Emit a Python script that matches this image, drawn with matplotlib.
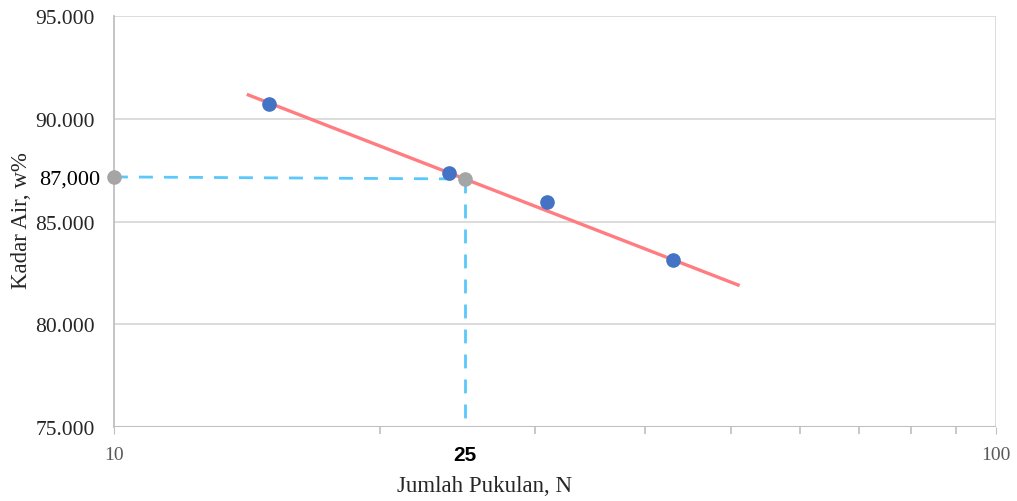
import numpy as np
import matplotlib.pyplot as plt
import matplotlib.ticker as mticker
import matplotlib.transforms as mtrans

# data
blowsN = [15, 24, 31, 43]
waterW = [90.72, 87.36, 85.95, 83.13]

trendN = [14.2, 51.0]
trendW = [91.16, 81.91]

helperN = [10, 25]
helperW = [87.17, 87.07]

yTicks = [75, 80, 85, 90, 95]
yTickLabels = ["75.000", "80.000", "85.000", "90.000", "95.000"]
xTicks = [10, 100]
xTickLabels = ["10", "100"]

serif = "Liberation Serif"

fig = plt.figure(figsize=(10.17, 5.02), dpi=100)
ax = fig.add_axes([0.1121, 0.1474, 0.8673, 0.8187])

ax.set_xscale("log")
ax.set_xlim(10, 100)
ax.set_ylim(75, 95)

# grid frame
ax.set_yticks(yTicks)
ax.set_yticklabels(yTickLabels, fontfamily=serif, fontsize=15.5, color="#262626")
ax.grid(axis="y", color="#d9d9d9", linewidth=1.3)
for s in ["top", "right", "bottom"]:
    ax.spines[s].set_visible(False)
ax.spines["left"].set_color("#bfbfbf")
ax.spines["left"].set_linewidth(1.3)
ax.axvline(100, color="#d9d9d9", linewidth=1.3)
ax.axhline(75, color="#bfbfbf", linewidth=1.5)
ax.tick_params(axis="y", length=0, pad=14)

ax.xaxis.set_major_locator(mticker.FixedLocator(xTicks))
ax.xaxis.set_major_formatter(mticker.FixedFormatter(xTickLabels))
ax.xaxis.set_minor_locator(mticker.FixedLocator([20, 30, 40, 50, 60, 70, 80, 90]))
ax.xaxis.set_minor_formatter(mticker.NullFormatter())
ax.tick_params(axis="x", which="major", length=5, color="#bfbfbf", pad=9,
               labelsize=14, labelcolor="#595959")
ax.tick_params(axis="x", which="minor", length=5, color="#bfbfbf", width=1.2)
for lbl in ax.get_xticklabels():
    lbl.set_fontfamily(serif)

# dashed guide lines
ax.plot(helperN, helperW, linestyle=(0, (5, 4)), color="#5ac8fa", linewidth=2, zorder=2)
ax.plot([helperN[1], helperN[1]], [helperW[1], 75], linestyle=(0, (5, 4)),
        color="#5ac8fa", linewidth=2, zorder=2)

# trend line and points
ax.plot(trendN, trendW, color="#ff7c80", linewidth=2.4, zorder=3)
ax.plot(blowsN, waterW, "o", color="#4472c4", markersize=9.5, zorder=4)
ax.plot(helperN, helperW, "o", color="#a5a5a5", markersize=9.5, zorder=5, clip_on=False)

# extra labels
trans = mtrans.blended_transform_factory(ax.transData, ax.transAxes)
ax.text(25, -0.045, "25", transform=trans, ha="center", va="top",
        fontsize=15, fontweight="bold", color="black", fontfamily="Liberation Sans")
ytrans = mtrans.blended_transform_factory(ax.transAxes, ax.transData)
ax.text(-0.016, 87.05, "87,000", transform=ytrans, ha="right", va="center",
        fontsize=16, color="black", fontfamily=serif)

fig.text(0.476, 0.03, "Jumlah Pukulan, N", ha="center", va="center",
         fontsize=16.5, fontfamily=serif, color="#262626")
fig.text(0.021, 0.56, "Kadar Air, w%", ha="center", va="center", rotation=90,
         fontsize=16.5, fontfamily=serif, color="#262626")

fig.savefig("out.png", dpi=100)
